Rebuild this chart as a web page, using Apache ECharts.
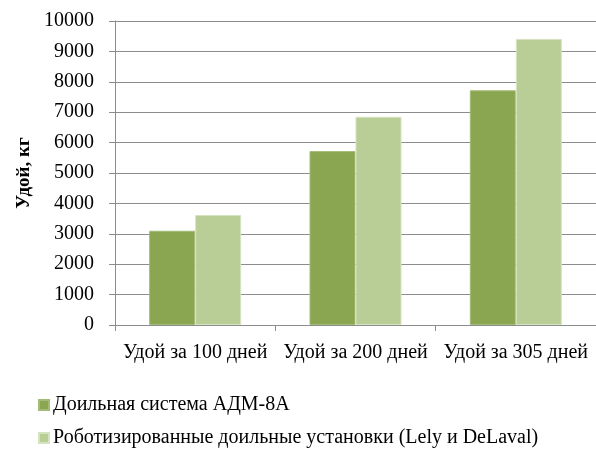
<!DOCTYPE html>
<html>
<head>
<meta charset="utf-8">
<style>
  html, body { margin: 0; padding: 0; background: #ffffff; }
  #chart { width: 596px; height: 455px; }
</style>
<script src="https://cdn.jsdelivr.net/npm/echarts@6/dist/echarts.min.js"></script>
</head>
<body>
<div id="chart"></div>
<script>
// Milk yield per lactation period, kg
const categories = ['Удой за 100 дней', 'Удой за 200 дней', 'Удой за 305 дней'];
const seriesNames = ['Доильная система АДМ-8А', 'Роботизированные доильные установки (Lely и DeLaval)'];
const admValues = [3100, 5720, 7720];
const robotValues = [3620, 6850, 9410];
const yTicks = { min: 0, max: 10000, interval: 1000 };
const yAxisTitle = 'Удой, кг';

const serif = '"Liberation Serif", "DejaVu Serif", serif';
const gridGray = '#8c8c8c';

const chart = echarts.init(document.getElementById('chart'), null, { renderer: 'canvas' });
chart.setOption({
  animation: false,
  backgroundColor: '#ffffff',
  grid: { left: 115, top: 21, bottom: 130, right: -2, containLabel: false },
  legend: {
    orient: 'vertical',
    left: 38,
    top: 395,
    height: 60,
    padding: 0,
    itemWidth: 10,
    itemHeight: 10,
    itemGap: 13,
    icon: 'rect',
    textStyle: { fontFamily: serif, fontSize: 20, color: '#000000', lineHeight: 20, padding: [0, 0, 0, -1] },
    data: seriesNames
  },
  xAxis: {
    type: 'category',
    data: categories,
    axisLine: { show: true, lineStyle: { color: gridGray, width: 1 } },
    axisTick: { show: true, length: 6, lineStyle: { color: gridGray } },
    axisLabel: { fontFamily: serif, fontSize: 20, color: '#000000', margin: 18, interval: 0 },
    splitLine: { show: false }
  },
  yAxis: {
    type: 'value',
    min: yTicks.min,
    max: yTicks.max,
    interval: yTicks.interval,
    name: yAxisTitle,
    nameLocation: 'middle',
    nameGap: 81,
    nameTextStyle: { fontFamily: serif, fontSize: 19, fontWeight: 'bold', color: '#000000' },
    axisLine: { show: true, lineStyle: { color: gridGray, width: 1 } },
    axisTick: { show: true, length: 6, lineStyle: { color: gridGray } },
    axisLabel: {
      fontFamily: serif, fontSize: 20, color: '#000000', margin: 21,
      formatter: function (v) { return String(v); }
    },
    splitLine: { show: true, lineStyle: { color: gridGray, width: 1 } }
  },
  series: [
    {
      name: seriesNames[0],
      type: 'bar',
      data: admValues,
      barWidth: 46,
      barGap: '0%',
      itemStyle: { color: '#8aa650', borderColor: '#a3bb78', borderWidth: 1 }
    },
    {
      name: seriesNames[1],
      type: 'bar',
      data: robotValues,
      barWidth: 46,
      barGap: '0%',
      itemStyle: { color: '#b9ce96', borderColor: '#d6e3c0', borderWidth: 1 }
    }
  ]
});
</script>
</body>
</html>
